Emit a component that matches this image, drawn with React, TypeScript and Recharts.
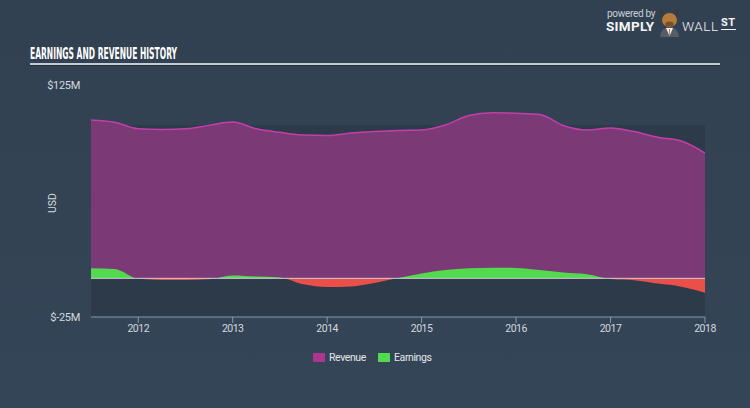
import React from 'react';
import { AreaChart, Area, XAxis, YAxis, ReferenceArea, ReferenceLine } from 'recharts';

// quarterly points, mid 2011 -> start of 2018 (values in $M)
const quarters = [
  2011.5, 2011.75, 2012, 2012.25, 2012.5, 2012.75, 2013, 2013.25, 2013.5,
  2013.75, 2014, 2014.25, 2014.5, 2014.75, 2015, 2015.25, 2015.5, 2015.75,
  2016, 2016.25, 2016.5, 2016.75, 2017, 2017.25, 2017.5, 2017.75, 2018,
];
const revenue = [
  102.4, 100.9, 96.7, 96.3, 96.7, 98.9, 101.0, 96.7, 94.4,
  92.6, 92.3, 93.9, 94.9, 95.6, 95.9, 99.1, 105.3, 107.0,
  106.7, 106.0, 98.8, 95.9, 97.2, 94.9, 91.2, 88.8, 81.0,
];
const earnings = [
  6.5, 6.0, -0.3, -1.0, -1.1, -0.6, 1.9, 1.2, 0.6,
  -3.9, -5.6, -5.2, -3.0, 0.2, 3.2, 5.4, 6.5, 6.9,
  6.7, 5.4, 3.7, 2.6, -0.5, -1.3, -3.4, -5.4, -9.3,
];
const yearTicks = [2012, 2013, 2014, 2015, 2016, 2017, 2018];
const valueTicks = [-25, 125];

const chartData = quarters.map((t, i) => ({ t, revenue: revenue[i], earnings: earnings[i] }));

// where the earnings fill switches from green to red
const earnMax = Math.max(...earnings);
const earnMin = Math.min(...earnings);
const splitOffset = earnMax / (earnMax - earnMin);

const labelColor = '#d3d9df';

const Logo = () => (
  <div style={{ position: 'absolute', left: 606, top: 0, width: 140, height: 40 }}>
    <div style={{ position: 'absolute', left: 1, top: 9, fontSize: 10, lineHeight: '10px', color: '#c9cfd5', letterSpacing: -0.3 }}>
      powered by
    </div>
    <div style={{ position: 'absolute', left: 0, top: 19, fontSize: 13.5, lineHeight: '14px', fontWeight: 700, color: '#f2f4f6', letterSpacing: 0.3 }}>
      SIMPLY
    </div>
    <svg style={{ position: 'absolute', left: 51, top: 7 }} width={25} height={30}>
      <path d="M4 2 Q4 9 8 10 M21 2 Q21 9 17 10" stroke="#3a3a3a" strokeWidth={2.2} fill="none" />
      <ellipse cx={12.5} cy={13} rx={7.5} ry={7} fill="#b47c3c" />
      <ellipse cx={12.5} cy={17} rx={4.2} ry={2.6} fill="#7a4f26" />
      <path d="M3 30 Q4 20 12.5 20 Q21 20 22 30 Z" fill="#555e68" />
      <path d="M9 21 L16 21 L12.5 29 Z" fill="#eef0f2" />
      <path d="M12 22 L13 22 L12.8 28 L12.2 28 Z" fill="#e0512b" />
    </svg>
    <div style={{ position: 'absolute', left: 76, top: 19, fontSize: 13.5, lineHeight: '14px', fontWeight: 300, color: '#f2f4f6', letterSpacing: 0.5 }}>
      WALL
    </div>
    <div style={{ position: 'absolute', left: 115, top: 17, fontSize: 11, fontWeight: 700, color: '#f2f4f6', borderBottom: '1.5px solid #f2f4f6', lineHeight: '12px', letterSpacing: 0.5 }}>
      ST
    </div>
  </div>
);

const legendItems = [
  { name: 'Revenue', color: '#ac3590', left: 313 },
  { name: 'Earnings', color: '#52d94e', left: 378 },
];

const App = () => {
  return (
    <div
      style={{
        position: 'relative',
        width: 750,
        height: 408,
        background: 'linear-gradient(#324151, #344557)',
        fontFamily: 'Roboto, sans-serif',
        overflow: 'hidden',
      }}
    >
      <style>{'body{margin:0}'}</style>

      <svg style={{ position: 'absolute', left: 30, top: 42 }} width={330} height={22}>
        <text
          x={0}
          y={17}
          textLength={147}
          lengthAdjust="spacingAndGlyphs"
          fontFamily="'DejaVu Sans Condensed', 'DejaVu Sans', sans-serif"
          fontWeight="bold"
          fontSize={16}
          fill="#ffffff"
        >
          EARNINGS AND REVENUE HISTORY
        </text>
      </svg>
      <div style={{ position: 'absolute', left: 30, top: 63, width: 690, height: 2, background: '#c3ccd4' }} />
      <div style={{ position: 'absolute', left: 30, top: 65, width: 690, height: 1, background: '#232e3a' }} />

      <Logo />

      <div
        style={{
          position: 'absolute',
          left: 52,
          top: 203,
          transform: 'translate(-50%, -50%) rotate(-90deg)',
          fontSize: 10.5,
          color: labelColor,
        }}
      >
        USD
      </div>

      <div style={{ position: 'absolute', left: 0, top: 0 }}>
        <AreaChart width={750} height={408} data={chartData} margin={{ top: 85, right: 45, bottom: 61, left: 31 }}>
          <defs>
            <linearGradient id="earnSplit" x1="0" y1="0" x2="0" y2="1">
              <stop offset={splitOffset} stopColor="#52d94e" stopOpacity={1} />
              <stop offset={splitOffset} stopColor="#ea4f4a" stopOpacity={1} />
            </linearGradient>
          </defs>
          <XAxis
            dataKey="t"
            type="number"
            domain={[2011.5, 2018]}
            ticks={yearTicks}
            interval={0}
            height={30}
            tickSize={6}
            stroke="#8a9aab"
            tick={{ fill: labelColor, fontSize: 10.5, letterSpacing: -0.5 }}
          />
          <YAxis
            type="number"
            domain={[-25, 125]}
            ticks={valueTicks}
            width={60}
            axisLine={false}
            tickLine={false}
            tickMargin={5}
            tick={{ fill: labelColor, fontSize: 11, letterSpacing: -0.3 }}
            tickFormatter={(v: number) => `$${v}M`}
          />
          <ReferenceArea x1={2011.5} x2={2018} y1={-25} y2={99} fill="#2c3a4a" fillOpacity={1} stroke="none" />
          <Area
            type="monotone"
            dataKey="revenue"
            stroke="#c23fa9"
            strokeWidth={1.5}
            fill="#7b3a75"
            fillOpacity={1}
            dot={false}
            activeDot={false}
            isAnimationActive={false}
          />
          <Area
            type="monotone"
            dataKey="earnings"
            stroke="none"
            fill="url(#earnSplit)"
            fillOpacity={1}
            dot={false}
            activeDot={false}
            isAnimationActive={false}
          />
          <ReferenceLine y={0} stroke="#c9d1d9" strokeWidth={1} />
        </AreaChart>
      </div>

      {legendItems.map((item) => (
        <div
          key={item.name}
          style={{
            position: 'absolute',
            left: item.left,
            top: 350,
            display: 'flex',
            alignItems: 'center',
            height: 14,
            fontSize: 10.5,
            letterSpacing: -0.4,
            color: '#e3e7eb',
          }}
        >
          <span style={{ width: 12, height: 9, background: item.color, marginRight: 4 }} />
          <span>{item.name}</span>
        </div>
      ))}
    </div>
  );
};

export default App;
